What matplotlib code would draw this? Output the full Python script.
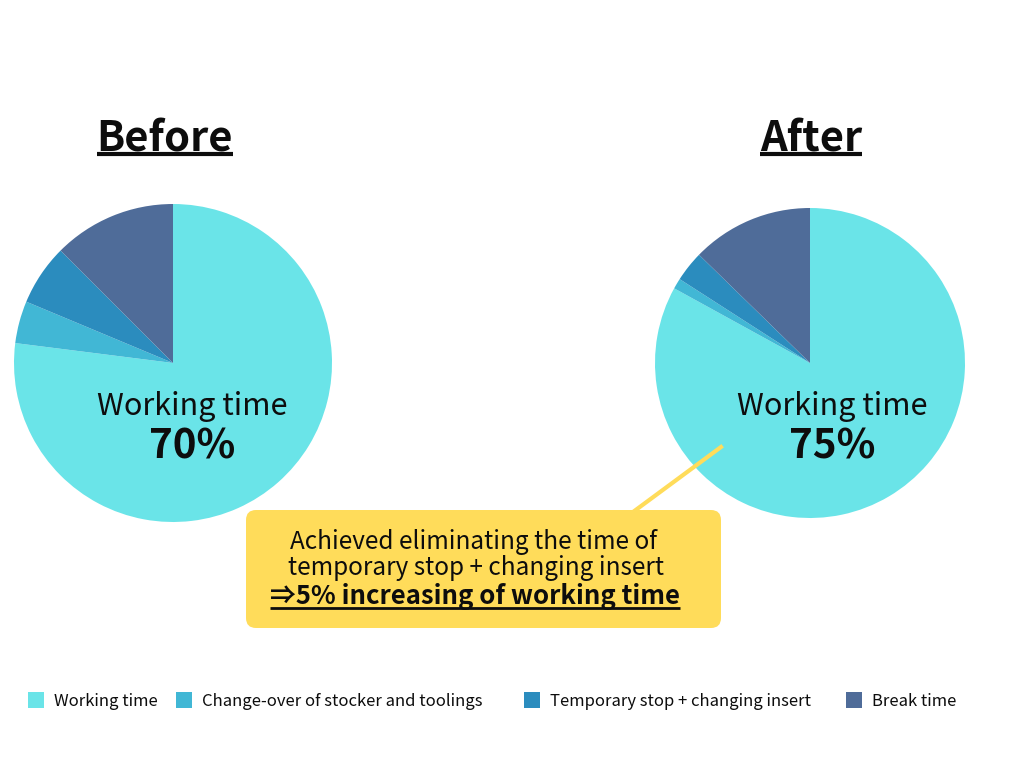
import matplotlib.pyplot as plt
from matplotlib.patches import Rectangle, FancyBboxPatch

plt.rcParams['font.family'] = ['Noto Sans CJK JP', 'DejaVu Sans']

categories = ['Working time', 'Change-over of stocker and toolings',
              'Temporary stop + changing insert', 'Break time']
before_vals = [77.0, 4.3, 6.2, 12.5]
after_vals = [83.0, 1.1, 3.2, 12.7]
before_label = '70%'
after_label = '75%'
colors = ['#6AE4E8', '#41B7D5', '#2B8CBE', '#4F6C99']

fig = plt.figure(figsize=(10.24, 7.68), dpi=100)
ax = fig.add_axes([0, 0, 1, 1])

H = 768
# pies (pixel coords, y flipped)
ax.pie(before_vals, colors=colors, startangle=90, counterclock=False,
       center=(173, H - 363), radius=159, frame=True,
       wedgeprops=dict(linewidth=0))
ax.pie(after_vals, colors=colors, startangle=90, counterclock=False,
       center=(810, H - 363), radius=155, frame=True,
       wedgeprops=dict(linewidth=0))

ax.set_xlim(0, 1024)
ax.set_ylim(0, H)
ax.set_aspect('equal')
ax.axis('off')

txt = '#0d0d0d'
fig.canvas.draw()
renderer = fig.canvas.get_renderer()


def underline(t, y, lw=2.5, z=6):
    bb = t.get_window_extent(renderer)
    ax.plot([bb.x0, bb.x1], [H - y, H - y], color=txt, lw=lw,
            solid_capstyle='butt', zorder=z)


# titles
t1 = ax.text(165, H - 139, 'Before', ha='center', va='center',
             fontsize=30, fontweight='bold', color=txt)
t2 = ax.text(811, H - 139, 'After', ha='center', va='center',
             fontsize=30, fontweight='bold', color=txt)
fig.canvas.draw()
underline(t1, 154, lw=3)
underline(t2, 154, lw=3)

# labels on pies
ax.text(192, H - 407, 'Working time', ha='center', va='center', fontsize=22, color=txt)
ax.text(192, H - 447, before_label, ha='center', va='center', fontsize=29,
        fontweight='bold', color=txt)
ax.text(832, H - 407, 'Working time', ha='center', va='center', fontsize=22, color=txt)
ax.text(832, H - 447, after_label, ha='center', va='center', fontsize=29,
        fontweight='bold', color=txt)

# callout
yellow = '#FFDC5A'
ax.plot([633, 721], [H - 512, H - 447], color=yellow, lw=3, zorder=3)
box = FancyBboxPatch((246, H - 628), 475, 118,
                     boxstyle='round,pad=0,rounding_size=10',
                     facecolor=yellow, edgecolor='none', zorder=4)
ax.add_patch(box)
ax.text(474, H - 542, 'Achieved eliminating the time of', ha='center', va='center',
        fontsize=17.5, color=txt, zorder=5)
ax.text(476, H - 568, 'temporary stop + changing insert', ha='center', va='center',
        fontsize=17.5, color=txt, zorder=5)
t3 = ax.text(475, H - 596, '⇒5% increasing of working time', ha='center', va='center',
             fontsize=18.5, fontweight='bold', color=txt, zorder=5)
fig.canvas.draw()
underline(t3, 608, lw=2)

# legend, drawn item by item
sq_x = [28, 176, 524, 846]
for x0, c, name in zip(sq_x, colors, categories):
    ax.add_patch(Rectangle((x0, H - 708), 16, 16, facecolor=c, edgecolor='none'))
    ax.text(x0 + 26, H - 701, name, ha='left', va='center', fontsize=12, color=txt)

fig.savefig('out.png', dpi=100, facecolor='white')
